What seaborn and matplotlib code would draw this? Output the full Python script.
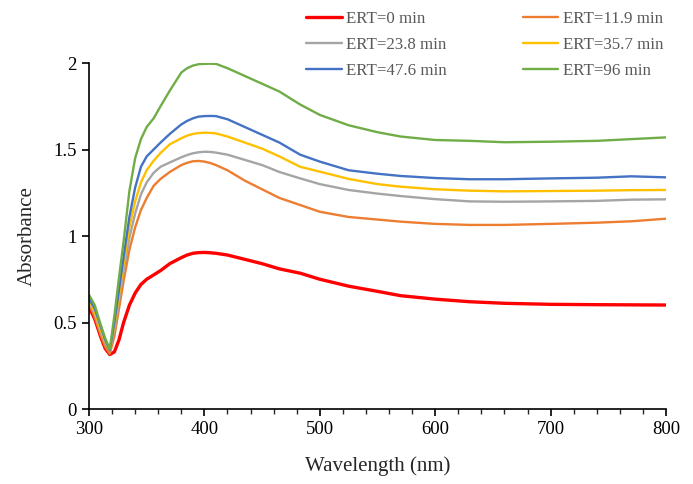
import numpy as np
import pandas as pd
import matplotlib
matplotlib.use("Agg")
import matplotlib.pyplot as plt
import seaborn as sns
from matplotlib.ticker import MultipleLocator

wavelength = [300, 305, 310, 314, 318, 322, 326, 330, 335, 340, 345, 350, 356, 362, 370,
              380, 385, 390, 395, 400, 405, 410, 420, 435, 450, 465, 483, 500, 525, 550, 570, 600, 630,
              660, 700, 740, 770, 800]

ert_0 = [0.59, 0.52, 0.42, 0.35, 0.315, 0.33, 0.40, 0.50, 0.60, 0.67, 0.72, 0.75, 0.775, 0.80, 0.84,
         0.875, 0.89, 0.90, 0.904, 0.905, 0.903, 0.90, 0.89, 0.865, 0.84, 0.81, 0.785, 0.75, 0.71, 0.68, 0.655, 0.635, 0.62,
         0.611, 0.605, 0.603, 0.602, 0.601]
ert_11_9 = [0.61, 0.53, 0.43, 0.36, 0.32, 0.42, 0.58, 0.74, 0.92, 1.05, 1.15, 1.22, 1.29, 1.33, 1.37,
            1.41, 1.423, 1.432, 1.434, 1.43, 1.422, 1.41, 1.38, 1.32, 1.27, 1.22, 1.179, 1.14, 1.11, 1.095, 1.083, 1.07, 1.064,
            1.064, 1.07, 1.077, 1.085, 1.10]
ert_23_8 = [0.62, 0.55, 0.45, 0.38, 0.34, 0.46, 0.63, 0.80, 0.99, 1.13, 1.24, 1.31, 1.365, 1.40, 1.425,
            1.455, 1.468, 1.478, 1.484, 1.487, 1.486, 1.482, 1.47, 1.44, 1.41, 1.37, 1.333, 1.30, 1.266, 1.245, 1.231, 1.213, 1.20,
            1.198, 1.20, 1.203, 1.21, 1.212]
ert_35_7 = [0.63, 0.56, 0.46, 0.39, 0.34, 0.48, 0.66, 0.84, 1.05, 1.20, 1.31, 1.38, 1.435, 1.48, 1.53,
            1.565, 1.58, 1.59, 1.595, 1.597, 1.596, 1.593, 1.575, 1.54, 1.505, 1.46, 1.40, 1.372, 1.33, 1.30, 1.285, 1.27, 1.262,
            1.258, 1.26, 1.262, 1.265, 1.266]
ert_47_6 = [0.64, 0.58, 0.48, 0.40, 0.34, 0.50, 0.69, 0.88, 1.11, 1.28, 1.40, 1.46, 1.50, 1.54, 1.59,
            1.645, 1.665, 1.68, 1.69, 1.693, 1.694, 1.693, 1.675, 1.63, 1.585, 1.54, 1.47, 1.43, 1.38, 1.36, 1.347, 1.335, 1.328,
            1.328, 1.333, 1.337, 1.345, 1.339]
ert_96 = [0.66, 0.60, 0.49, 0.41, 0.345, 0.54, 0.76, 0.97, 1.26, 1.45, 1.56, 1.63, 1.68, 1.75, 1.84,
          1.945, 1.97, 1.985, 1.993, 1.995, 1.996, 1.995, 1.97, 1.925, 1.88, 1.835, 1.76, 1.70, 1.64, 1.60, 1.575, 1.555, 1.55,
          1.542, 1.545, 1.55, 1.56, 1.57]

labels = ["ERT=0 min", "ERT=11.9 min", "ERT=23.8 min", "ERT=35.7 min", "ERT=47.6 min", "ERT=96 min"]
series = [ert_0, ert_11_9, ert_23_8, ert_35_7, ert_47_6, ert_96]
colors = ["#FF0000", "#ED7D31", "#A5A5A5", "#FFC000", "#4472C4", "#70AD47"]
widths = [2.4, 1.7, 1.7, 1.7, 1.7, 1.7]

sns.set_style("ticks")
plt.rcParams["font.family"] = ["Liberation Serif", "DejaVu Serif"]

fig = plt.figure(figsize=(6.93, 4.84), dpi=100)
ax = fig.add_axes([89/693, 1 - 409/484, (666-89)/693, (409-63)/484])

for lab, vals, c, w in zip(labels, series, colors, widths):
    sns.lineplot(x=wavelength, y=vals, color=c, linewidth=w, label=lab, ax=ax)

ax.set_xlim(300, 800)
ax.set_ylim(0, 2)
ax.xaxis.set_major_locator(MultipleLocator(100))
ax.xaxis.set_minor_locator(MultipleLocator(20))
ax.set_yticks([0, 0.5, 1, 1.5, 2])
ax.set_yticklabels(["0", "0.5", "1", "1.5", "2"])
ax.tick_params(axis="both", which="major", direction="out", length=5, width=1.2,
               labelsize=13.5, colors="black", pad=4)
ax.tick_params(axis="x", which="minor", direction="out", length=3.5, width=1.0)
for s in ["top", "right"]:
    ax.spines[s].set_visible(False)
for s in ["left", "bottom"]:
    ax.spines[s].set_linewidth(1.2)
    ax.spines[s].set_color("black")

ax.set_xlabel("Wavelength (nm)", fontsize=15, labelpad=13)
ax.set_ylabel("Absorbance", fontsize=15, labelpad=12)

ax.get_legend().remove()
handles, labs = ax.get_legend_handles_labels()
order = [0, 2, 4, 1, 3, 5]
leg = fig.legend([handles[i] for i in order], [labs[i] for i in order],
                 loc="upper left", bbox_to_anchor=(306/693, 1 - 11/484), ncol=2,
                 frameon=False, fontsize=12.2, handlelength=2.1, handletextpad=0.25,
                 columnspacing=4.5, labelspacing=0.6, borderpad=0, borderaxespad=0)
for t in leg.get_texts():
    t.set_color("#595959")

fig.savefig("out.png", dpi=100)
